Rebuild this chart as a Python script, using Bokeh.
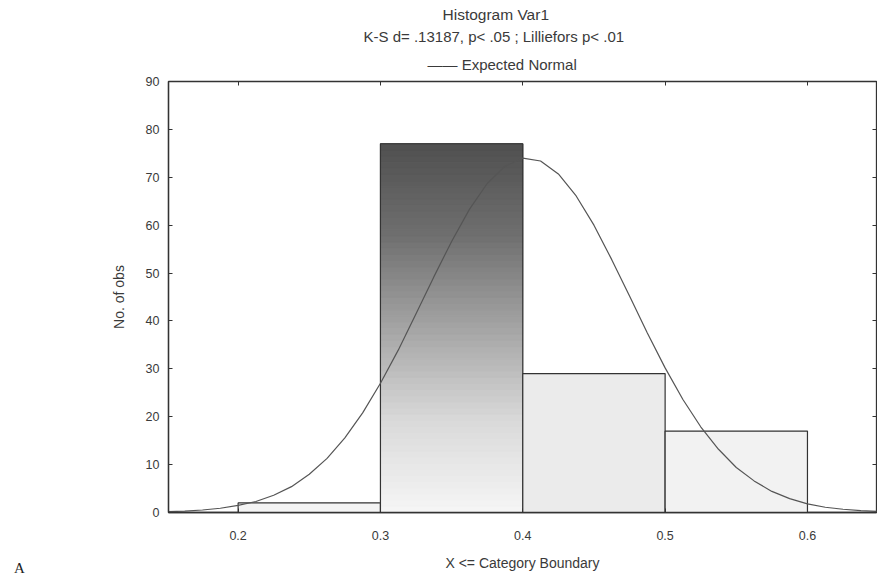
from bokeh.plotting import figure
from bokeh.models import (Title, LinearAxis, FixedTicker, Range1d, Div)
from bokeh.layouts import column
from bokeh.embed import file_html
from bokeh.resources import INLINE

# ---- data ----
bin_left = [0.2, 0.3, 0.4, 0.5]
bin_right = [0.3, 0.4, 0.5, 0.6]
counts = [2, 77, 29, 17]

curve_x = [0.15, 0.1625, 0.175, 0.1875, 0.2, 0.2125, 0.225, 0.2375, 0.25, 0.2625,
           0.275, 0.2875, 0.3, 0.3125, 0.325, 0.3375, 0.35, 0.3625, 0.375, 0.3875,
           0.4, 0.4125, 0.425, 0.4375, 0.45, 0.4625, 0.475, 0.4875, 0.5, 0.5125,
           0.525, 0.5375, 0.55, 0.5625, 0.575, 0.5875, 0.6, 0.6125, 0.625, 0.6375, 0.65]
curve_y = [0.17, 0.3, 0.52, 0.89, 1.5, 2.3, 3.6, 5.4, 8.0, 11.3,
           15.6, 20.8, 27.0, 33.9, 41.5, 49.2, 56.6, 63.3, 68.7, 72.3,
           74.0, 73.4, 70.7, 66.1, 60.0, 52.8, 45.2, 37.5, 30.2, 23.6,
           17.9, 13.2, 9.4, 6.6, 4.4, 2.9, 1.8, 1.1, 0.68, 0.39, 0.22]

x_ticks = [0.2, 0.3, 0.4, 0.5, 0.6]
y_ticks = [0, 10, 20, 30, 40, 50, 60, 70, 80, 90]

title1 = "Histogram  Var1"
title2 = "K-S d= .13187, p< .05 ; Lilliefors p< .01"
legend_text = "\u2014\u2014 Expected Normal"
x_label = "X <= Category Boundary"
y_label = "No. of obs"
corner_label = "A"

FONT = "Liberation Sans"
TXT = "#3a3a3a"

p = figure(width=877, height=579, output_backend="svg", toolbar_location=None,
           x_range=Range1d(0.1511, 0.6485), y_range=Range1d(0, 90),
           min_border_left=168, min_border_right=1, min_border_top=81, min_border_bottom=67,
           background_fill_color="white", border_fill_color="white")
p.grid.visible = False
p.outline_line_color = "#333333"
p.outline_line_width = 1.3

# gradient bar (dark at top -> light at bottom), drawn as thin slices of the real bar
stops = [(0.0, (246, 246, 246)), (0.25, (218, 218, 218)), (0.5, (165, 165, 165)),
         (0.75, (112, 112, 112)), (1.0, (80, 80, 80))]

def grad(t):
    for (t0, c0), (t1, c1) in zip(stops[:-1], stops[1:]):
        if t0 <= t <= t1:
            f = (t - t0) / (t1 - t0)
            return "#%02x%02x%02x" % tuple(int(a + (b - a) * f) for a, b in zip(c0, c1))
    return "#505050"

fills = ["#f4f4f4", None, "#ebebeb", "#f2f2f2"]
for i, (l, r, c) in enumerate(zip(bin_left, bin_right, counts)):
    if fills[i] is None:
        n = 60
        bots = [c * k / n for k in range(n)]
        tops = [c * (k + 1) / n for k in range(n)]
        cols = [grad((k + 0.5) / n) for k in range(n)]
        p.quad(left=[l] * n, right=[r] * n, bottom=bots, top=tops, fill_color=cols,
               line_color=cols, line_width=1)
        p.quad(left=[l], right=[r], bottom=[0], top=[c], fill_color=None,
               line_color="#333333", line_width=1.2)
    else:
        p.quad(left=[l], right=[r], bottom=[0], top=[c], fill_color=fills[i],
               line_color="#333333", line_width=1.2)

curve = p.line(curve_x, curve_y, line_color="#555555", line_width=1.2)

for ax in (p.xaxis[0], p.yaxis[0]):
    ax.major_tick_in = 4
    ax.major_tick_out = 0
    ax.minor_tick_line_color = None
    ax.axis_line_color = "#333333"
    ax.axis_line_width = 1.3
    ax.major_tick_line_color = "#333333"
    ax.major_label_text_font = FONT
    ax.major_label_text_font_size = "12.5px"
    ax.major_label_text_color = TXT
    ax.axis_label_text_font = FONT
    ax.axis_label_text_font_size = "14px"
    ax.axis_label_text_color = TXT
    ax.axis_label_text_font_style = "normal"

p.xaxis[0].ticker = FixedTicker(ticks=x_ticks)
p.yaxis[0].ticker = FixedTicker(ticks=y_ticks)
p.xaxis[0].axis_label = x_label
p.yaxis[0].axis_label = y_label
p.xaxis[0].major_label_standoff = 18
p.yaxis[0].major_label_standoff = 9
p.xaxis[0].axis_label_standoff = 12
p.yaxis[0].axis_label_standoff = 16
p.xaxis[0].major_label_overrides = {t: ("%.1f" % t) for t in x_ticks}

# mirrored ticks on top and right
for side in ("above", "right"):
    a = LinearAxis(ticker=FixedTicker(ticks=x_ticks if side == "above" else y_ticks),
                   major_label_text_font_size="0px", major_label_standoff=0,
                   major_tick_in=4, major_tick_out=0, minor_tick_line_color=None,
                   axis_line_color=None, major_tick_line_color="#333333")
    p.add_layout(a, side)

# legend line and titles, stacked above the frame
p.add_layout(Title(text=legend_text, align="left", offset=259, standoff=18,
                   text_font=FONT, text_font_size="15px", text_font_style="normal",
                   text_color=TXT), "above")
p.add_layout(Title(text=title2, align="left", offset=195, standoff=0,
                   text_font=FONT, text_font_size="15px", text_font_style="normal",
                   text_color=TXT), "above")
p.add_layout(Title(text=title1, align="left", offset=274, standoff=5,
                   text_font=FONT, text_font_size="15.5px", text_font_style="normal",
                   text_color=TXT), "above")

# corner panel letter, overlapping the figure's bottom-left corner
corner = Div(text=corner_label, width=30, height=18, margin=(-20, 0, 0, 14),
             styles={"font-family": "Liberation Serif", "font-size": "15px",
                     "color": "#222222", "line-height": "18px"})

open("out.html", "w").write(file_html(column(p, corner), INLINE))
